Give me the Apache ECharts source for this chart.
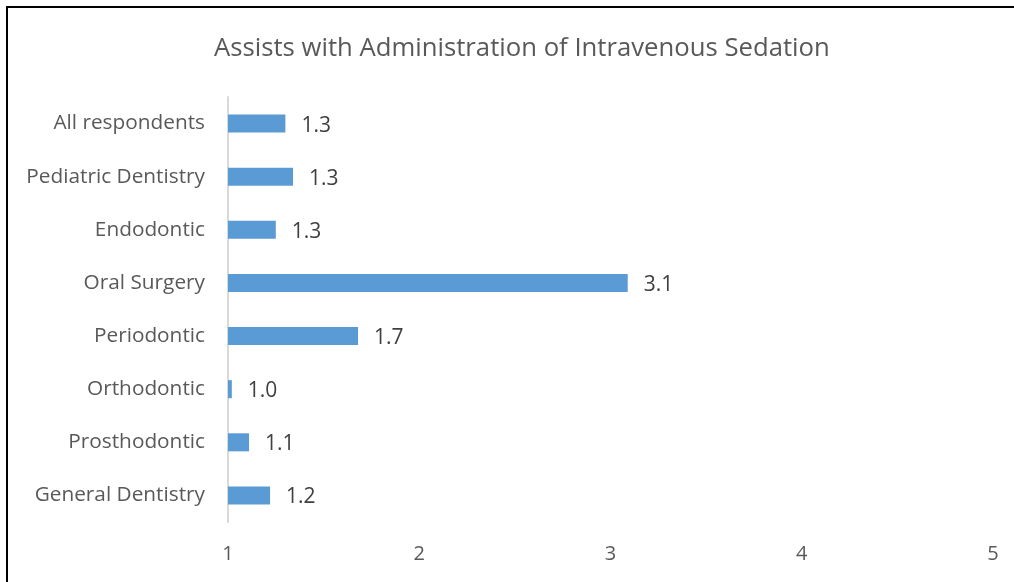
<!DOCTYPE html>
<html>
<head>
<meta charset="utf-8">
<script src="https://cdn.jsdelivr.net/npm/echarts@6/dist/echarts.min.js"></script>
<style>html,body{margin:0;padding:0;background:#fff;}#c{width:1014px;height:582px;}</style>
</head>
<body>
<div id="c"></div>
<script>
const titleText = "Assists with Administration of Intravenous Sedation";
const categories = ["General Dentistry","Prosthodontic","Orthodontic","Periodontic","Oral Surgery","Endodontic","Pediatric Dentistry","All respondents"];
const values = [1.22, 1.11, 1.02, 1.68, 3.09, 1.25, 1.34, 1.30];
const xMin = 1, xMax = 5, xStep = 1;

const FONT = "'Open Sans', 'Liberation Sans', sans-serif";
const chart = echarts.init(document.getElementById('c'), null, {renderer:'canvas'});
chart.setOption({
  animation:false,
  backgroundColor:'#fff',
  title:{
    text:titleText, left:209, top:31,
    textStyle:{fontFamily:FONT, fontSize:25.7, fontWeight:'normal', color:'#595959'}
  },
  graphic:[{type:'polyline', shape:{points:[[7,600],[7,7],[1020,7]]}, style:{stroke:'#000', lineWidth:2, fill:null}}],
  grid:{left:228, right:21, top:97, bottom:60, containLabel:false},
  xAxis:{
    type:'value', min:xMin, max:xMax, interval:xStep,
    axisLine:{show:false}, axisTick:{show:false}, splitLine:{show:false},
    axisLabel:{margin:22, fontFamily:FONT, fontSize:20, color:'#595959'}
  },
  yAxis:{
    type:'category', data:categories,
    axisLine:{show:true, lineStyle:{color:'#d9d9d9', width:2}},
    axisTick:{show:false},
    axisLabel:{margin:23, fontFamily:FONT, fontSize:20.8, color:'#595959', padding:[4,0,0,0]}
  },
  series:[{
    type:'bar', data:values, barCategoryGap:'66%',
    itemStyle:{color:'#5B9BD5'},
    label:{show:true, position:'right', distance:16, offset:[0,2], fontFamily:FONT, fontSize:21, color:'#404040',
      formatter:p=>p.value.toFixed(1)}
  }]
});
</script>
</body>
</html>
